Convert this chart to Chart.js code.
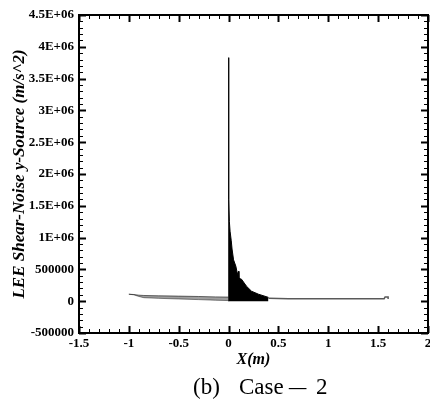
<!DOCTYPE html>
<html>
<head>
<meta charset="utf-8">
<script src="https://cdn.jsdelivr.net/npm/chart.js@4.4.1/dist/chart.umd.min.js"></script>
<style>
  html, body { margin: 0; padding: 0; background: #fff; }
  #wrap { width: 430px; height: 399px; position: relative; }
</style>
</head>
<body>
<div id="wrap"><canvas id="srcChart"></canvas></div>
<script>
// --- DATA ---

const xTickLabels = ['-1.5', '-1', '-0.5', '0', '0.5', '1', '1.5', '2'];
const yTickLabels = ['-500000', '0', '500000', '1E+06', '1.5E+06', '2E+06', '2.5E+06', '3E+06', '3.5E+06', '4E+06', '4.5E+06'];

// upstream band (x < 0), drawn as upper / lower edges of the oscillation
const leftX     = [-1.0, -0.95, -0.9, -0.85, -0.7, -0.5, -0.3, -0.13, 0];
const leftUpper = [110000, 105000, 95000, 90000, 85000, 80000, 74000, 68000, 65000];
const leftLower = [110000, 100000, 75000, 55000, 45000, 35000, 25000, 15000, 10000];

// source peak at the lip and decaying envelope downstream
const mainX = [0, 0, 0.003, 0.008, 0.015, 0.027, 0.035, 0.05, 0.073, 0.09, 0.1, 0.104, 0.13, 0.18, 0.23, 0.3, 0.4];
const mainY = [0, 3830000, 1600000, 1250000, 1100000, 950000, 820000, 650000, 550000, 420000, 470000, 360000, 345000, 235000, 157000, 110000, 60000];

// far downstream tail
const rightX = [0.4, 0.6, 0.8, 1.0, 1.2, 1.4, 1.56, 1.57, 1.6, 1.6];
const rightY = [45000, 40000, 40000, 40000, 40000, 40000, 40000, 68000, 68000, 35000];

const X_MIN = -1.5, X_MAX = 2;
const Y_MIN = -500000, Y_MAX = 4500000;

function pts(xs, ys) { return xs.map((v, i) => ({ x: v, y: ys[i] })); }

const SERIF = "'Liberation Serif', 'Times New Roman', serif";

// --- PLUGINS: inward ticks on all four sides + caption ---

const frameTicks = {
    id: 'frameTicks',
    afterDatasetsDraw(chart) {
        const { ctx, chartArea: a, scales: { x, y } } = chart;
        ctx.save();
        ctx.strokeStyle = '#000';
        for (let i = 0; i <= Math.round((X_MAX - X_MIN) / 0.1); i++) {
            const v = X_MIN + i * 0.1;
            const major = i % 5 === 0;
            const px = Math.round(x.getPixelForValue(v)) + 0.5;
            const len = major ? 7 : 4;
            ctx.lineWidth = major ? 2 : 1;
            ctx.beginPath();
            ctx.moveTo(px, a.bottom); ctx.lineTo(px, a.bottom - len);
            ctx.moveTo(px, a.top); ctx.lineTo(px, a.top + len);
            ctx.stroke();
        }
        for (let i = 0; i <= Math.round((Y_MAX - Y_MIN) / 100000); i++) {
            const v = Y_MIN + i * 100000;
            const major = i % 5 === 0;
            const py = Math.round(y.getPixelForValue(v)) + 0.5;
            const len = major ? 7 : 4;
            ctx.lineWidth = major ? 2 : 1;
            ctx.beginPath();
            ctx.moveTo(a.left, py); ctx.lineTo(a.left + len, py);
            ctx.moveTo(a.right, py); ctx.lineTo(a.right - len, py);
            ctx.stroke();
        }
        ctx.lineWidth = 2;
        ctx.strokeRect(a.left, a.top, a.right - a.left, a.bottom - a.top);
        ctx.restore();
    }
};

const caption = {
    id: 'caption',
    afterDraw(chart) {
        const ctx = chart.ctx;
        ctx.save();
        ctx.fillStyle = '#000';
        ctx.font = '23px ' + SERIF;
        ctx.textBaseline = 'alphabetic';
        ctx.textAlign = 'left';
        ctx.fillText('(b)', 193, 394);
        ctx.fillText('Case', 239, 394);
        ctx.fillText('2', 316, 394);
        // the dash in the caption is a little longer than an en dash
        ctx.translate(289, 394);
        ctx.scale(1.5, 1);
        ctx.fillText('\u2013', 0, 0);
        ctx.restore();
    }
};

// --- CHART ---

const ctx = document.getElementById('srcChart').getContext('2d');
const srcChart = new Chart(ctx, {
    type: 'line',
    data: {
        datasets: [
            { data: pts(leftX, leftUpper), borderColor: 'rgba(0,0,0,0.55)', borderWidth: 1, fill: '+1', backgroundColor: 'rgba(0,0,0,0.38)' },
            { data: pts(leftX, leftLower), borderColor: 'rgba(0,0,0,0.45)', borderWidth: 1, fill: false },
            { data: pts(mainX, mainY), borderColor: '#000', borderWidth: 1, fill: 'origin', backgroundColor: '#000' },
            { data: pts(rightX, rightY), borderColor: 'rgba(0,0,0,0.65)', borderWidth: 1.5, fill: false }
        ]
    },
    options: {
        responsive: true, maintainAspectRatio: false, animation: false,
        layout: { padding: { left: 0, right: 2, top: 15, bottom: 0 } },
        plugins: { legend: { display: false }, tooltip: { enabled: false } },
        elements: { point: { radius: 0 }, line: { tension: 0 } },
        scales: {
            x: {
                type: 'linear', min: X_MIN, max: X_MAX,
                grid: { display: false, drawTicks: false }, border: { display: false },
                ticks: { stepSize: 0.5, autoSkip: false, maxRotation: 0, padding: 3, color: '#000',
                         font: { family: SERIF, size: 13, weight: 'bold' },
                         callback: (v, i) => xTickLabels[i] },
                title: { display: true, text: 'X(m)', color: '#000', padding: { top: 0, bottom: 30 },
                         font: { family: SERIF, size: 16, weight: 'bold', style: 'italic' } },
                afterFit: (s) => { s.height = 66; s.paddingLeft = 0; s.paddingRight = 0; }
            },
            y: {
                type: 'linear', min: Y_MIN, max: Y_MAX,
                grid: { display: false, drawTicks: false }, border: { display: false },
                ticks: { stepSize: 500000, autoSkip: false, padding: 5, color: '#000',
                         font: { family: SERIF, size: 13, weight: 'bold' },
                         callback: (v, i) => yTickLabels[i] },
                title: { display: true, text: 'LEE Shear-Noise y-Source (m/s^2)', color: '#000', padding: { top: 9, bottom: 0 },
                         font: { family: SERIF, size: 17, weight: 'bold', style: 'italic' } },
                afterFit: (s) => { s.width = 79; s.paddingTop = 0; s.paddingBottom = 0; }
            }
        }
    },
    plugins: [frameTicks, caption]
});
</script>
</body>
</html>
